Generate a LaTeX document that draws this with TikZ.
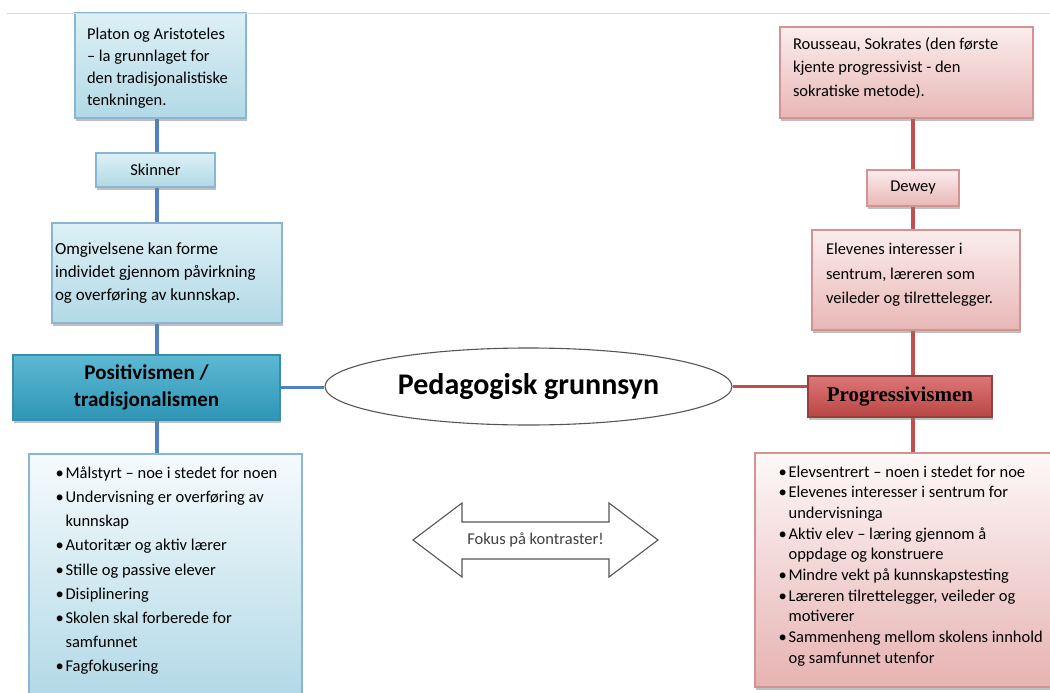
\documentclass[tikz,border=0pt]{standalone}
\usepackage{fontspec}
\setmainfont{Carlito}
\newfontfamily\serifbf{Liberation Serif}
\usetikzlibrary{positioning,shapes.geometric,shadows,backgrounds}
\definecolor{BlueLine}{HTML}{4F81BD}
\definecolor{BlueEdge}{HTML}{8AB6D6}
\definecolor{BlueTop}{HTML}{DDF0F6}
\definecolor{BlueBot}{HTML}{B2D9E6}
\definecolor{LBulTop}{HTML}{F5FBFD}
\definecolor{LBulBot}{HTML}{A9D4E3}
\definecolor{PosTop}{HTML}{5DB9D3}
\definecolor{PosBot}{HTML}{2F96B6}
\definecolor{PosEdge}{HTML}{3A8CAB}
\definecolor{RedLine}{HTML}{C0504D}
\definecolor{RedEdge}{HTML}{D19492}
\definecolor{PinkTop}{HTML}{FBEDED}
\definecolor{PinkBot}{HTML}{E8B7B6}
\definecolor{RBulTop}{HTML}{FEF8F8}
\definecolor{RBulBot}{HTML}{E6B3B2}
\definecolor{ProgTop}{HTML}{DC7777}
\definecolor{ProgBot}{HTML}{BA4644}
\definecolor{ProgEdge}{HTML}{93403E}
\definecolor{EllEdge}{HTML}{555555}
\newcommand{\blt}{\makebox[10pt][l]{•}}
\newcommand{\bltind}{\hspace*{10pt}}
\newcommand{\lift}[1]{\rule[-#1]{0pt}{#1}}

\begin{document}
\begin{tikzpicture}[x=1pt,y=-1pt,
    bluebox/.style={draw=BlueEdge,line width=1.2pt,top color=BlueTop,bottom color=BlueBot,
      drop shadow={shadow xshift=1pt,shadow yshift=-2.5pt,opacity=.5},
      align=flush left,inner ysep=0pt,font=\fontsize{16.5}{22.5}\selectfont},
    pinkbox/.style={bluebox,draw=RedEdge,top color=PinkTop,bottom color=PinkBot},
    posbox/.style={bluebox,draw=PosEdge,top color=PosTop,bottom color=PosBot,align=center,
      font=\bfseries\fontsize{21}{27}\selectfont},
    progbox/.style={bluebox,draw=ProgEdge,top color=ProgTop,bottom color=ProgBot,align=center,
      font=\serifbf\bfseries\fontsize{21}{25}\selectfont},
    bullets/.style={anchor=north west,align=flush left,inner sep=0pt},
    bline/.style={BlueLine,line width=3.4pt},
    rline/.style={RedLine,line width=3.4pt}]
  \useasboundingbox (0,0) rectangle (1050,693);

  % tradisjonalismen
  \node[bluebox,minimum width=171pt,minimum height=105pt,text width=147pt,inner xsep=12pt,
    font=\fontsize{16.5}{22}\selectfont] (plat) at (160.5,65.5)
    {\rule{0pt}{17pt}Platon og Aristoteles\\– la grunnlaget for\\den tradisjonalistiske\\tenkningen.};
  \node[bluebox,minimum width=119pt,minimum height=34pt,align=center] (skin) at (155.5,170) {Skinner};
  \node[bluebox,minimum width=230pt,minimum height=100pt,text width=224pt,inner xsep=3pt,
    font=\fontsize{17}{23}\selectfont] (omg) at (167,273)
    {Omgivelsene kan forme\\individet gjennom påvirkning\\og overføring av kunnskap.};
  \node[posbox,minimum width=267pt,minimum height=65pt] (posi) at (146.5,387.5) {Positivismen /\\tradisjonalismen};
  \node[bluebox,minimum width=273pt,minimum height=276pt,top color=LBulTop,bottom color=LBulBot] (lbul) at (165.5,592) {};
  \node[bullets,font=\fontsize{16.5}{24.2}\selectfont] (lbultxt) at ([xshift=27pt,yshift=-13pt]lbul.north west)
    {\blt Målstyrt – noe i stedet for noen\\
     \blt Undervisning er overføring av\\
     \bltind kunnskap\\
     \blt Autoritær og aktiv lærer\\
     \blt Stille og passive elever\\
     \blt Disiplinering\\
     \blt Skolen skal forberede for\\
     \bltind samfunnet\\
     \blt Fagfokusering};

  % midten
  \node[ellipse,draw=EllEdge,line width=1.1pt,minimum width=407pt,minimum height=77pt,
    font=\bfseries\fontsize{30}{36}\selectfont] (ped) at (528.5,386.5) {Pedagogisk grunnsyn};
  \node[font=\fontsize{16.5}{20}\selectfont,text=black!75] (fokus) at (535.5,540) {Fokus på kontraster!};
  \draw[EllEdge,line width=1.1pt] (413,540) -- (462,503) -- (462,522) -- (609,522) -- (609,503) -- (658,540)
    -- (609,577) -- (609,559) -- (462,559) -- (462,577) -- cycle;

  % progressivismen
  \node[pinkbox,minimum width=253pt,minimum height=91pt,text width=227pt,inner xsep=13pt,
    font=\fontsize{16.5}{23.5}\selectfont] (rous) at (906.5,72.5)
    {Rousseau, Sokrates (den første\\kjente progressivist - den\\sokratiske metode).\lift{12pt}};
  \node[pinkbox,minimum width=92pt,minimum height=36pt,align=center] (dew) at (913,188) {Dewey};
  \node[pinkbox,minimum width=208pt,minimum height=100pt,text width=180pt,inner xsep=14pt,
    font=\fontsize{16.5}{24.5}\selectfont] (elev) at (916,280)
    {Elevenes interesser i\\sentrum, læreren som\\veileder og tilrettelegger.\lift{13pt}};
  \node[progbox,minimum width=184pt,minimum height=41pt] (prog) at (900,396.5) {Progressivismen};
  \node[pinkbox,minimum width=307pt,minimum height=234pt,top color=RBulTop,bottom color=RBulBot] (rbul) at (908.5,570) {};
  \node[bullets,font=\fontsize{16.5}{20.7}\selectfont] (rbultxt) at ([xshift=24pt,yshift=-13pt]rbul.north west)
    {\blt Elevsentrert – noen i stedet for noe\\
     \blt Elevenes interesser i sentrum for\\
     \bltind undervisninga\\
     \blt Aktiv elev – læring gjennom å\\
     \bltind oppdage og konstruere\\
     \blt Mindre vekt på kunnskapstesting\\
     \blt Læreren tilrettelegger, veileder og\\
     \bltind motiverer\\
     \blt Sammenheng mellom skolens innhold\\
     \bltind og samfunnet utenfor};

  \coordinate (lcol) at (157,0);
  \coordinate (rcol) at (913,0);
  \begin{scope}[on background layer]
    \draw[bline] (plat.south -| lcol) -- (lbul.north -| lcol);
    \draw[bline] (posi.east) -- (posi.east -| ped.west);
    \draw[rline] (rous.south -| rcol) -- (rbul.north -| rcol);
    \draw[rline] (ped.east) -- (ped.east -| prog.west);
  \end{scope}
  \draw[black!15,line width=0.8pt] (7,13) -- (1050,13);
\end{tikzpicture}
\end{document}
